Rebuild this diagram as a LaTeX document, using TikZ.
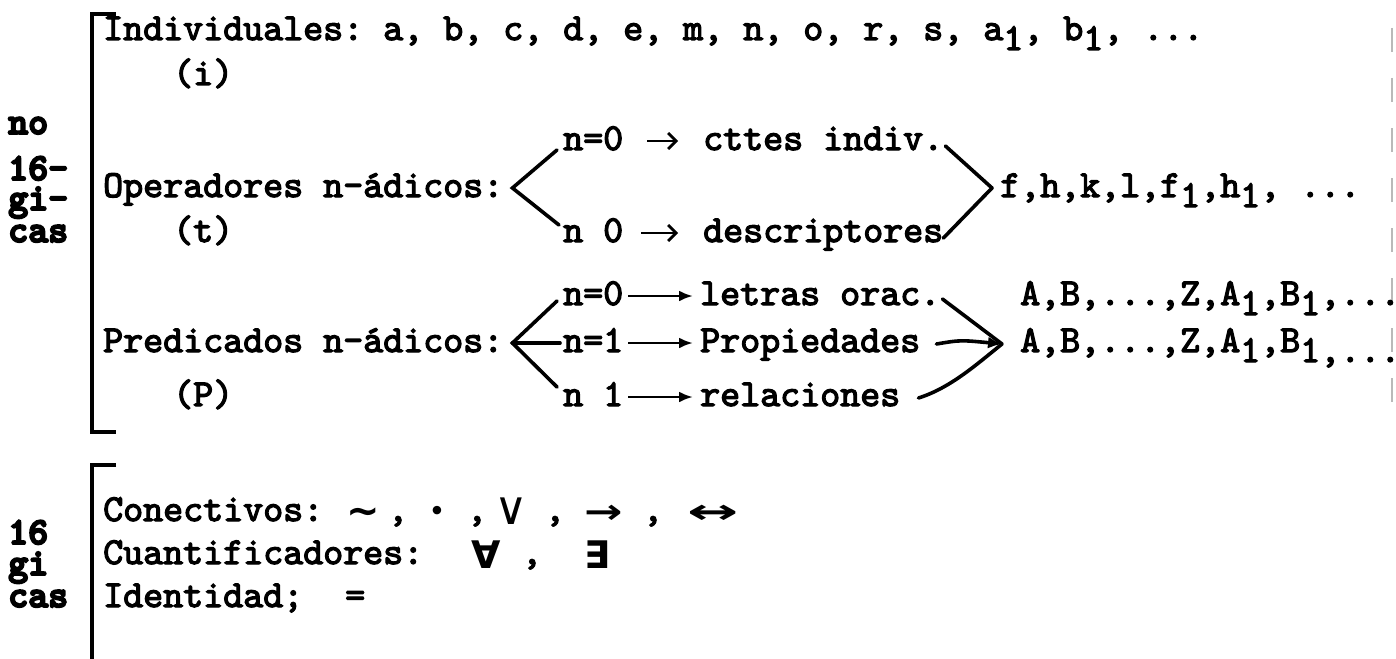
\documentclass[tikz,border=0pt]{standalone}
\usepackage{fontspec}
\usetikzlibrary{arrows.meta,calc}
% typewriter faces: body text and the heavier side labels
\newfontfamily\twfont{lmmono10-regular.otf}[FakeBold=3.2]
\newfontfamily\twbold{lmmonolt10-bold.otf}[FakeBold=5]
\newfontfamily\symfont{DejaVu Sans Bold}
\newfontfamily\symlight{DejaVu Sans}
% typed subscript: a full character cell, dropped below the line
\newcommand\lowr[1]{\raisebox{-10pt}{#1}}
\tikzset{
  tw/.style={inner sep=0pt, anchor=base west, font={\twfont\fontsize{38.1}{40}\selectfont\frenchspacing}},
  lbl/.style={tw, font={\twbold\fontsize{38.1}{40}\selectfont\frenchspacing}},
  sym/.style={inner sep=0pt, anchor=base, font={\symfont\fontsize{34}{36}\selectfont}},
  bracket/.style={line width=4pt},
  branch/.style={line width=3.6pt, line cap=round},
  typedarrow/.style={line width=2.8pt, -{Straight Barb[length=8pt,width=16pt,line width=2.8pt]}},
  longarrow/.style={line width=2.8pt, -{Latex[length=14pt,width=11pt]}},
  brace/.style={line width=3.6pt, line cap=round, line join=round},
}
\begin{document}
\begin{tikzpicture}[x=1pt,y=-1pt]
\useasboundingbox (0,0) rectangle (1396,658);
\fill[white] (0,0) rectangle (1396,658);

% page edge marks
\draw[gray!55, line width=1.6pt, dash pattern=on 24pt off 26pt] (1392,28) -- (1392,420);

% brackets
\draw[bracket] (116,14) -- (92,14) -- (92,432) -- (116,432);
\draw[bracket] (116,465) -- (92,465) -- (92,660);

% side labels
\node[lbl] (no)   at (8,134) {no};
\node[lbl] (lo)   at (8,180) {16-};
\node[lbl] (gi)   at (8,210) {gi-};
\node[lbl] (cas)  at (8,242) {cas};
\node[lbl] (lo2)  at (8,544) {16};
\node[lbl] (gi2)  at (8,575) {gi};
\node[lbl] (cas2) at (8,607) {cas};

% individual constants
\node[tw] (ind) at (103,40) {Individuales: a, b, c, d, e, m, n, o, r, s, a\lowr{1}, b\lowr{1}, ...};
\node[tw] (ii)  at (173,85) {(i)};

% operators
\node[tw] (op)   at (103,197) {Operadores n-ádicos:};
\node[tw] (tt)   at (173,242) {(t)};
\node[tw] (opa)  at (563,150) {n=0};
\node[tw] (opa2) at (703,150) {cttes indiv.};
\node[tw] (opb)  at (563,242) {n 0};
\node[tw] (opb2) at (703,242) {descriptores};
\node[tw] (opr)  at (1000,197) {f,h,k,l,f\lowr{1},h\lowr{1}, ...};

\draw[branch] ($(opa.base west)+(-6,0)$) -- ($(op.base east)+(9,-9)$) -- ($(opb.base west)+(-4,-17)$);
\draw[typedarrow] ($(opa.base east)+(24,-9)$) -- ($(opa2.base west)+(-25,-9)$);
\draw[typedarrow] ($(opb.base east)+(18,-9)$) -- ($(opb2.base west)+(-25,-9)$);
\coordinate (optip) at ($(opr.base west)+(-8,-9)$);
\draw[brace] ($(opa2.base east)+(2,-4)$) -- (optip) -- ($(opb2.base east)+(0,-4)$);

% predicates
\node[tw] (pred) at (103,352) {Predicados n-ádicos:};
\node[tw] (pp)   at (173,406) {(P)};
\node[tw] (pra)  at (563,305) {n=0};
\node[tw] (pra2) at (700,305) {letras orac.};
\node[tw] (prb)  at (563,352) {n=1};
\node[tw] (prb2) at (700,352) {Propiedades};
\node[tw] (prc)  at (563,406) {n 1};
\node[tw] (prc2) at (700,406) {relaciones};
\node[tw] (arow1) at (1020,305) {A,B,...,Z,A\lowr{1},B\lowr{1},...};
\node[tw] (arow2) at (1020,352) {A,B,...,Z,A\lowr{1},B\lowr{1,...}};

\coordinate (prv) at ($(pred.base east)+(9,-9)$);
\draw[branch] ($(pra.base west)+(-6,-4)$) -- (prv) -- ($(prc.base west)+(-6,-19)$);
\draw[branch] (prv) -- ($(prb.base west)+(-3,-9)$);
\draw[longarrow] ($(pra.base east)+(5,-9)$) -- ($(pra2.base west)+(-7,-9)$);
\draw[longarrow] ($(prb.base east)+(5,-9)$) -- ($(prb2.base west)+(-7,-9)$);
\draw[longarrow] ($(prc.base east)+(5,-9)$) -- ($(prc2.base west)+(-7,-9)$);
\coordinate (prtip) at ($(arow2.base west)+(-18,-8)$);
\draw[brace] ($(pra2.base east)+(2,-6)$) -- (prtip);
\draw[brace] ($(prc2.base east)+(18,-8)$) .. controls ($(prc2.base east)+(50,-18)$) and ($(prtip)+(-25,20)$) .. (prtip);
\draw[brace, -{Latex[length=14pt,width=12pt]}] ($(prb2.base east)+(16,-8)$) .. controls ($(prb2.base east)+(40,-12)$) .. (prtip);

% logical symbols
\node[tw] (con) at (103,521) {Conectivos:};
\node[sym, font={\symfont\fontsize{40}{42}\selectfont}] (neg) at (363,524) {∼};
\node[tw, anchor=base] (c1) at (398,521) {,};
\node[sym, font={\symfont\fontsize{24}{26}\selectfont}] (conj) at (437,519) {•};
\node[tw, anchor=base] (c2) at (477,521) {,};
\node[sym, font={\symlight\fontsize{46}{48}\selectfont}] (disj) at (511,524) {∨};
\node[tw, anchor=base] (c3) at (555,521) {,};
\node[sym] (impl) at (604,523) {\scalebox{1.35}[1]{→}};
\node[tw, anchor=base] (c4) at (653,521) {,};
\node[sym] (bicond) at (713,523) {\scalebox{1.8}[1]{↔}};

\node[tw] (cua) at (103,564) {Cuantificadores:};
\node[sym, font={\symfont\fontsize{38}{40}\selectfont}] (all) at (486,568) {∀};
\node[tw, anchor=base] (c5) at (532,564) {,};
\node[sym, font={\symfont\fontsize{38}{40}\selectfont}] (ex) at (597,568) {∃};

\node[tw] (ide) at (103,607) {Identidad;};
\node[tw] (eq) at (345,607) {=};
\end{tikzpicture}
\end{document}
